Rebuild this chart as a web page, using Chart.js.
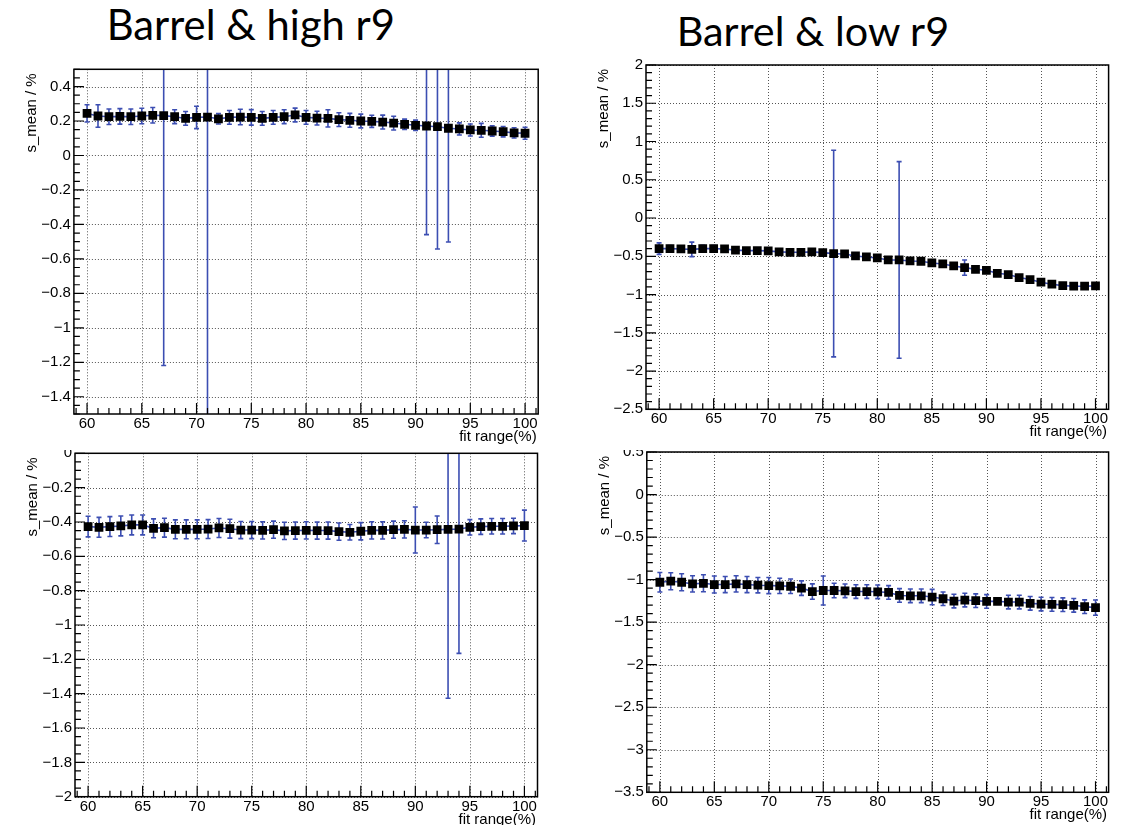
<!DOCTYPE html>
<html><head><meta charset="utf-8">
<script src="https://cdn.jsdelivr.net/npm/chart.js@4/dist/chart.umd.min.js"></script>
<style>
html,body{margin:0;padding:0;background:#fff;width:1131px;height:825px;overflow:hidden;position:relative}
.box{position:absolute;overflow:hidden}
.box canvas{position:absolute;left:0}
.title{position:absolute;font-family:Lato,sans-serif;white-space:nowrap;line-height:normal;color:#000}
</style></head><body>
<div class="title" id="t1">Barrel &amp; high r9</div>
<div class="title" id="t2">Barrel &amp; low r9</div>
<div class="box" id="b1"><canvas id="c1"></canvas></div>
<div class="box" id="b2"><canvas id="c2"></canvas></div>
<div class="box" id="b3"><canvas id="c3"></canvas></div>
<div class="box" id="b4"><canvas id="c4"></canvas></div>
<script>
// ---------------- data ----------------
const fitRange = [60,61,62,63,64,65,66,67,68,69,70,71,72,73,74,75,76,77,78,79,80,81,82,83,84,85,86,87,88,89,90,91,92,93,94,95,96,97,98,99,100];
const xTickValues = [60,65,70,75,80,85,90,95,100];

// Barrel & high r9 (top)
const sMeanHighTop = [0.244,0.229,0.225,0.227,0.225,0.229,0.233,0.231,0.225,0.215,
  0.221,0.223,0.213,0.221,0.223,0.221,0.215,0.221,0.225,0.235,
  0.221,0.217,0.215,0.208,0.204,0.200,0.198,0.194,0.188,0.181,
  0.175,0.171,0.167,0.158,0.154,0.148,0.146,0.142,0.138,0.131,
  0.129];
const errHighTop = [0.05,0.065,0.045,0.045,0.045,0.045,0.045,1.45,0.04,0.04,
  0.065,2.0,0.03,0.04,0.045,0.045,0.04,0.04,0.04,0.04,
  0.04,0.04,0.05,0.04,0.04,0.04,0.035,0.04,0.04,0.03,
  0.03,0.63,0.71,0.66,0.035,0.035,0.04,0.03,0.03,0.03,
  0.035];
const yTicksHighTop = [-1.4,-1.2,-1,-0.8,-0.6,-0.4,-0.2,0,0.2,0.4];

// Barrel & low r9 (top)
const sMeanLowTop = [-0.400,-0.400,-0.404,-0.410,-0.400,-0.400,-0.404,-0.420,-0.426,-0.426,
  -0.430,-0.443,-0.448,-0.448,-0.443,-0.452,-0.465,-0.470,-0.496,-0.509,
  -0.522,-0.548,-0.548,-0.561,-0.565,-0.587,-0.600,-0.626,-0.648,-0.670,
  -0.683,-0.722,-0.739,-0.778,-0.804,-0.839,-0.865,-0.883,-0.891,-0.891,
  -0.887];
const errLowTop = [0.075,0.04,0.04,0.095,0.045,0.04,0.04,0.035,0.035,0.035,
  0.035,0.035,0.03,0.035,0.03,0.035,1.35,0.035,0.035,0.03,
  0.035,0.03,1.285,0.03,0.03,0.035,0.03,0.035,0.1,0.035,
  0.035,0.03,0.035,0.03,0.03,0.035,0.03,0.03,0.03,0.03,
  0.035];
const yTicksLowTop = [-2.5,-2,-1.5,-1,-0.5,0,0.5,1,1.5,2];

// Barrel & high r9 (bottom)
const sMeanHighBottom = [-0.427,-0.431,-0.427,-0.423,-0.417,-0.417,-0.437,-0.433,-0.443,-0.443,
  -0.443,-0.441,-0.435,-0.439,-0.447,-0.447,-0.449,-0.445,-0.452,-0.450,
  -0.449,-0.450,-0.450,-0.456,-0.460,-0.454,-0.449,-0.449,-0.445,-0.443,
  -0.447,-0.447,-0.445,-0.443,-0.441,-0.431,-0.427,-0.425,-0.425,-0.423,
  -0.421];
const errHighBottom = [0.06,0.058,0.058,0.058,0.058,0.058,0.055,0.055,0.055,0.055,
  0.055,0.055,0.055,0.055,0.05,0.05,0.05,0.05,0.05,0.05,
  0.05,0.05,0.05,0.05,0.045,0.05,0.05,0.05,0.05,0.05,
  0.134,0.045,0.08,0.984,0.724,0.045,0.045,0.045,0.045,0.045,
  0.09];
const yTicksHighBottom = [-2,-1.8,-1.6,-1.4,-1.2,-1,-0.8,-0.6,-0.4,-0.2,0];

// Barrel & low r9 (bottom)
const sMeanLowBottom = [-1.031,-1.019,-1.031,-1.050,-1.043,-1.058,-1.058,-1.050,-1.058,-1.066,
  -1.070,-1.074,-1.078,-1.100,-1.140,-1.128,-1.128,-1.132,-1.140,-1.140,
  -1.143,-1.151,-1.186,-1.190,-1.190,-1.205,-1.225,-1.252,-1.240,-1.248,
  -1.256,-1.256,-1.264,-1.264,-1.279,-1.287,-1.291,-1.295,-1.302,-1.318,
  -1.329];
const errLowBottom = [0.115,0.1,0.1,0.095,0.1,0.1,0.095,0.095,0.095,0.09,
  0.095,0.09,0.085,0.085,0.09,0.17,0.085,0.08,0.08,0.08,
  0.08,0.08,0.08,0.08,0.08,0.09,0.08,0.08,0.08,0.08,
  0.08,0.03,0.08,0.08,0.08,0.08,0.08,0.08,0.08,0.08,
  0.09];
const yTicksLowBottom = [-3.5,-3,-2.5,-2,-1.5,-1,-0.5,0,0.5];

const yTitle = 's_mean / %';
const xTitle = 'fit range(%)';

// ---------------- layout / style ----------------
const TICK_FONT = {family: "'Liberation Sans', Arial, sans-serif", size: 15};
const ERR_COLOR = 'rgb(60,78,178)';
const panels = [
  {id:'1', box:[0,50,562,395], canvasTop:50, canvasH:395, area:[73.9,69.3,538.2,414],
   yMin:-1.5, yMax:0.5, yTicks:yTicksHighTop, yMinor:4, mean:sMeanHighTop, err:errHighTop},
  {id:'2', box:[565,45,566,400], canvasTop:45, canvasH:400, area:[646,65,1108.6,409.3],
   yMin:-2.5, yMax:2, yTicks:yTicksLowTop, yMinor:5, mean:sMeanLowTop, err:errLowTop},
  {id:'3', box:[0,450,562,375], canvasTop:440, canvasH:385, area:[75,453.3,537.5,796.7],
   yMin:-2, yMax:0, yTicks:yTicksHighBottom, yMinor:4, mean:sMeanHighBottom, err:errHighBottom},
  {id:'4', box:[565,450,566,375], canvasTop:440, canvasH:385, area:[646.8,448.8,1108.6,792.3],
   yMin:-3.5, yMax:0.5, yTicks:yTicksLowBottom, yMinor:5, mean:sMeanLowBottom, err:errLowBottom}
];

function fmt(v){
  const s = String(Math.round(v*1000)/1000);
  return s.replace('-', '\u2212');
}

const rootStyle = {
  id: 'rootStyle',
  beforeDatasetsDraw(chart) {
    const {ctx, chartArea: a, scales: {x, y}} = chart;
    const ds = chart.data.datasets[0];
    ctx.save();
    // dotted grid
    ctx.strokeStyle = '#555';
    ctx.lineWidth = 1;
    ctx.setLineDash([1, 2]);
    ctx.beginPath();
    x.ticks.forEach(t => {
      const px = Math.round(x.getPixelForValue(t.value)) + 0.5;
      ctx.moveTo(px, a.top); ctx.lineTo(px, a.bottom);
    });
    y.ticks.forEach(t => {
      const py = Math.round(y.getPixelForValue(t.value)) + 0.5;
      ctx.moveTo(a.left, py); ctx.lineTo(a.right, py);
    });
    ctx.stroke();
    ctx.setLineDash([]);
    // error bars
    ctx.beginPath();
    ctx.rect(a.left, a.top, a.right - a.left, a.bottom - a.top);
    ctx.clip();
    ctx.strokeStyle = ERR_COLOR;
    ctx.lineWidth = 1.6;
    ctx.beginPath();
    ds.data.forEach((p, i) => {
      const e = ds.errors[i];
      const px = x.getPixelForValue(p.x);
      const y1 = y.getPixelForValue(p.y + e);
      const y2 = y.getPixelForValue(p.y - e);
      ctx.moveTo(px, y1); ctx.lineTo(px, y2);
      ctx.moveTo(px - 2.5, y1); ctx.lineTo(px + 2.5, y1);
      ctx.moveTo(px - 2.5, y2); ctx.lineTo(px + 2.5, y2);
    });
    ctx.stroke();
    ctx.restore();
  },
  afterDatasetsDraw(chart) {
    const {ctx, chartArea: a, scales: {x, y}} = chart;
    const ds = chart.data.datasets[0];
    ctx.save();
    ctx.strokeStyle = '#000';
    ctx.lineWidth = 1.5;
    ctx.strokeRect(a.left, a.top, a.right - a.left, a.bottom - a.top);
    ctx.lineWidth = 1.2;
    ctx.beginPath();
    // y ticks (inside, left)
    const yt = y.ticks.map(t => t.value);
    const ys = yt[1] - yt[0], ym = ys / ds.yMinor;
    for (let v = yt[0] - 20 * ys; v <= y.max + 1e-9; v += ym) {
      if (v < y.min - 1e-9) continue;
      const k = Math.round((v - yt[0]) / ym);
      const major = (k % ds.yMinor) === 0;
      const py = y.getPixelForValue(v);
      ctx.moveTo(a.left, py); ctx.lineTo(a.left + (major ? 10 : 6), py);
    }
    // x ticks (inside, bottom)
    const xt = x.ticks.map(t => t.value);
    const xs = xt[1] - xt[0], xm = xs / 5;
    for (let v = xt[0] - 5 * xs; v <= x.max + 1e-9; v += xm) {
      if (v < x.min - 1e-9) continue;
      const k = Math.round((v - xt[0]) / xm);
      const major = (k % 5) === 0;
      const px = x.getPixelForValue(v);
      ctx.moveTo(px, a.bottom); ctx.lineTo(px, a.bottom - (major ? 11 : 6));
    }
    ctx.stroke();
    // axis titles
    ctx.fillStyle = '#000';
    ctx.font = "15px 'Liberation Sans', Arial, sans-serif";
    ctx.textAlign = 'right';
    ctx.textBaseline = 'middle';
    ctx.fillText(xTitle, a.right - 1.5, a.bottom + 23);
    ctx.translate(a.left - 42, a.top + 4);
    ctx.rotate(-Math.PI / 2);
    ctx.fillText(yTitle, 0, 0);
    ctx.restore();
  }
};

panels.forEach(p => {
  const box = document.getElementById('b' + p.id);
  const [bl, bt, bw, bh] = p.box;
  Object.assign(box.style, {left: bl + 'px', top: bt + 'px', width: bw + 'px', height: bh + 'px'});
  const cv = document.getElementById('c' + p.id);
  cv.width = bw; cv.height = p.canvasH;
  cv.style.width = bw + 'px'; cv.style.height = p.canvasH + 'px';
  cv.style.top = (p.canvasTop - bt) + 'px';
  const [al, at, ar, ab] = p.area;
  const yAxisW = al - bl;
  const xAxisH = p.canvasTop + p.canvasH - ab;
  new Chart(cv, {
    type: 'line',
    data: {
      datasets: [{
        data: fitRange.map((v, i) => ({x: v, y: p.mean[i]})),
        errors: p.err,
        yMinor: p.yMinor,
        borderColor: ERR_COLOR,
        borderWidth: 1.6,
        pointStyle: 'rect',
        pointRadius: 6.2,
        pointHoverRadius: 6.2,
        pointBackgroundColor: '#000',
        pointBorderColor: '#000',
        pointBorderWidth: 0,
        tension: 0,
        fill: false
      }]
    },
    options: {
      responsive: false,
      animation: false,
      devicePixelRatio: 1,
      events: [],
      layout: {autoPadding: false, padding: {left: 0, top: at - p.canvasTop, right: bl + bw - ar, bottom: 0}},
      plugins: {legend: {display: false}, tooltip: {enabled: false}, title: {display: false}},
      scales: {
        x: {
          type: 'linear', min: 58.8, max: 101.2,
          afterBuildTicks: s => { s.ticks = xTickValues.map(v => ({value: v})); },
          afterFit: s => { s.height = xAxisH; },
          grid: {display: false, drawTicks: false},
          border: {display: false},
          ticks: {font: TICK_FONT, color: '#000', padding: 1, maxRotation: 0, autoSkip: false, callback: v => fmt(v)}
        },
        y: {
          type: 'linear', min: p.yMin, max: p.yMax,
          afterBuildTicks: s => { s.ticks = p.yTicks.map(v => ({value: v})); },
          afterFit: s => { s.width = yAxisW; },
          grid: {display: false, drawTicks: false},
          border: {display: false},
          ticks: {font: TICK_FONT, color: '#000', padding: 3, autoSkip: false, callback: v => fmt(v)}
        }
      }
    },
    plugins: [rootStyle]
  });
});

// page titles, sized to their measured widths
(function () {
  const mctx = document.createElement('canvas').getContext('2d');
  [['t1', 106.7, 288.3, 40], ['t2', 676.7, 273.3, 45.7]].forEach(([id, left, width, baseline]) => {
    const el = document.getElementById(id);
    const txt = el.textContent;
    mctx.font = "40px Lato";
    const w40 = mctx.measureText(txt).width;
    const size = 40 * width / w40;
    mctx.font = size + "px Lato";
    const m = mctx.measureText(txt);
    const asc = m.fontBoundingBoxAscent || size * 0.987;
    el.style.fontSize = size + 'px';
    el.style.left = left + 'px';
    el.style.top = (baseline - asc) + 'px';
  });
})();
</script>
</body></html>
